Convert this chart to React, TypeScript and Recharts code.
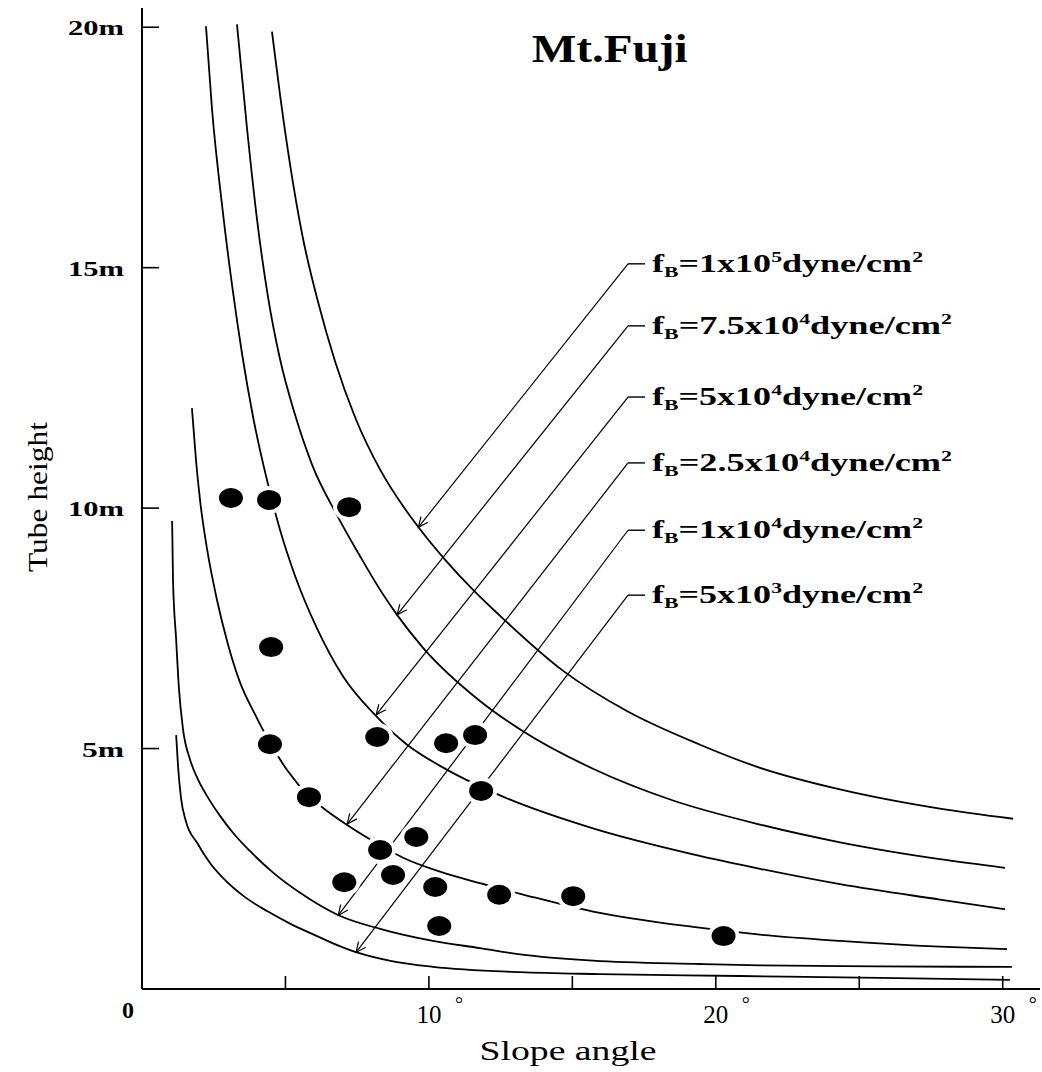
import React from 'react';
import { ComposedChart, Line, Scatter, XAxis, YAxis, ReferenceLine, ReferenceDot } from 'recharts';

// fB curves: slope angle (deg) -> tube height (m)
const angle1e5 = [4.53, 4.81, 5.16, 5.58, 6.13, 6.73, 7.42, 8.3, 9.17, 9.69, 10.56, 11.54, 12.48, 14.67, 16.9, 19.45, 21.54, 24.33, 27.81, 30.36];
const height1e5 = [19.91, 18.6, 17.15, 15.7, 14.3, 13.05, 11.9, 10.8, 9.98, 9.56, 8.93, 8.3, 7.76, 6.62, 5.78, 5.08, 4.6, 4.15, 3.75, 3.54];

const angle75e3 = [3.31, 3.66, 4.01, 4.39, 4.81, 5.33, 5.93, 6.8, 7.6, 8.3, 8.89, 9.79, 11.78, 13.28, 15.72, 18.51, 21.54, 24.33, 27.81, 30.08];
const height75e3 = [20.06, 17.9, 16.0, 14.4, 13.1, 11.95, 10.9, 9.85, 9.0, 8.3, 7.78, 7.1, 5.99, 5.36, 4.58, 3.92, 3.42, 3.05, 2.7, 2.52];

const angle5e4 = [2.23, 2.44, 2.79, 3.17, 3.49, 3.87, 4.39, 4.81, 5.33, 6.1, 7.01, 8.12, 9.24, 10.39, 11.54, 12.58, 15.72, 19.21, 21.54, 24.33, 27.81, 30.08];
const height5e4 = [20.02, 18.3, 16.3, 14.5, 13.2, 11.9, 10.5, 9.55, 8.6, 7.5, 6.5, 5.7, 5.08, 4.64, 4.28, 4.0, 3.34, 2.8, 2.5, 2.18, 1.86, 1.66];

const angle25e3 = [1.74, 1.88, 2.02, 2.27, 2.61, 3.0, 3.42, 3.94, 4.46, 5.05, 5.79, 6.45, 7.15, 8.3, 9.1, 10.39, 11.78, 13.25, 15.72, 19.21, 21.54, 24.33, 27.81, 30.15];
const height25e3 = [12.08, 11.01, 10.18, 9.14, 8.1, 7.16, 6.37, 5.71, 5.12, 4.56, 4.03, 3.7, 3.41, 2.99, 2.73, 2.44, 2.2, 1.97, 1.61, 1.29, 1.13, 1.0, 0.88, 0.83];

const angle1e4 = [1.05, 1.08, 1.19, 1.29, 1.43, 1.67, 1.95, 2.27, 2.72, 3.17, 3.76, 4.57, 5.51, 6.83, 8.3, 10.14, 11.78, 13.18, 15.72, 19.45, 21.54, 25.72, 30.32];
const height1e4 = [9.73, 8.52, 7.27, 6.23, 5.4, 4.78, 4.36, 4.01, 3.6, 3.25, 2.87, 2.42, 2.0, 1.54, 1.25, 1.0, 0.85, 0.72, 0.59, 0.52, 0.49, 0.47, 0.46];

const angle5e3 = [1.19, 1.26, 1.36, 1.53, 1.92, 2.37, 2.82, 3.59, 4.36, 5.16, 6.1, 6.66, 7.49, 8.7, 10.14, 13.18, 15.96, 20.84, 25.72, 30.25];
const height5e3 = [5.28, 4.6, 3.97, 3.49, 3.04, 2.62, 2.31, 1.91, 1.62, 1.36, 1.1, 0.95, 0.76, 0.58, 0.46, 0.35, 0.31, 0.27, 0.23, 0.19];

// observed lava tubes
const tubeAngle = [3.1, 4.43, 7.22, 4.5, 4.46, 5.82, 8.2, 10.6, 11.61, 11.82, 9.56, 8.3, 7.05, 8.75, 10.22, 10.36, 12.45, 15.03, 20.27];
const tubeHeight = [10.21, 10.17, 10.02, 7.11, 5.09, 3.99, 5.24, 5.11, 5.28, 4.12, 3.16, 2.89, 2.22, 2.37, 2.12, 1.31, 1.96, 1.93, 1.1];

// axes
const xTicks = [0, 5, 10, 15, 20, 25, 30];
const xTickLabels: Record<number, string> = { 0: '0', 10: '10', 20: '20', 30: '30' };
const yTicks = [5, 10, 15, 20];
const yTickLabels: Record<number, string> = { 5: '5m', 10: '10m', 15: '15m', 20: '20m' };

// fB labels and where their arrows land
const fbMantissa = ['1', '7.5', '5', '2.5', '1', '5'];
const fbExponent = ['5', '4', '4', '4', '4', '3'];
const tipAngle = [9.63, 8.89, 8.16, 7.15, 6.84, 7.46];
const tipHeight = [9.6, 7.78, 5.7, 3.43, 1.53, 0.76];
const labelAngle = [16.94, 16.94, 16.94, 16.94, 16.94, 16.94];
const labelHeight = [15.08, 13.79, 12.31, 10.94, 9.54, 8.19];

const toPoints = (xs: number[], ys: number[]) => xs.map((x, i) => ({ x, y: ys[i] }));

const curves = [
  toPoints(angle1e5, height1e5),
  toPoints(angle75e3, height75e3),
  toPoints(angle5e4, height5e4),
  toPoints(angle25e3, height25e3),
  toPoints(angle1e4, height1e4),
  toPoints(angle5e3, height5e3),
];
const tubes = toPoints(tubeAngle, tubeHeight);

const FONT = '"Liberation Serif", "DejaVu Serif", serif';

const AngleTick = (props: any) => {
  const { x, y, payload } = props;
  const v = payload.value;
  const lab = xTickLabels[v];
  if (v === 0) {
    return (
      <text x={x - 14} y={y + 29} textAnchor="middle" fontFamily={FONT} fontWeight="bold" fontSize={24} fill="#000">
        0
      </text>
    );
  }
  return (
    <g>
      <line x1={x} y1={y} x2={x} y2={y - 13} stroke="#000" strokeWidth={1.6} />
      {lab && (
        <>
          <text x={x} y={y + 34} textAnchor="middle" fontFamily={FONT} fontSize={25} fill="#000">
            {lab}
          </text>
          <text x={x + 26} y={y + 22} fontFamily={FONT} fontSize={20} fill="#000">
            °
          </text>
        </>
      )}
    </g>
  );
};

const HeightTick = (props: any) => {
  const { x, y, payload } = props;
  const lab = yTickLabels[payload.value];
  return (
    <g>
      <line x1={x} y1={y} x2={x + 17} y2={y} stroke="#000" strokeWidth={1.6} />
      <text
        x={x - 18}
        y={y + 8}
        textAnchor="end"
        fontFamily={FONT}
        fontWeight="bold"
        fontSize={22}
        textLength={lab.length === 2 ? 42 : 56}
        lengthAdjust="spacingAndGlyphs"
        fill="#000"
      >
        {lab}
      </text>
    </g>
  );
};

const Leader = (props: any) => {
  const { x1, y1, x2, y2, mantissa, exponent } = props;
  const ang = Math.atan2(y2 - y1, x2 - x1);
  const len = 11;
  const spread = 0.42;
  const ax = x1 + len * Math.cos(ang + spread);
  const ay = y1 + len * Math.sin(ang + spread);
  const bx = x1 + len * Math.cos(ang - spread);
  const by = y1 + len * Math.sin(ang - spread);
  const wide = mantissa.length > 1;
  return (
    <g>
      <line x1={x1} y1={y1} x2={x2} y2={y2} stroke="#000" strokeWidth={1.2} />
      <polyline points={`${ax},${ay} ${x1},${y1} ${bx},${by}`} fill="none" stroke="#000" strokeWidth={1.2} />
      <line x1={x2} y1={y2} x2={x2 + 17} y2={y2} stroke="#000" strokeWidth={1.4} />
      <text
        x={x2 + 24}
        y={y2 + 8}
        fontFamily={FONT}
        fontWeight="bold"
        fontSize={25}
        fill="#000"
        textLength={wide ? 300 : 271}
        lengthAdjust="spacingAndGlyphs"
      >
        f
        <tspan fontSize={15} dy={5}>B</tspan>
        <tspan dy={-5}>{`=${mantissa}x10`}</tspan>
        <tspan fontSize={15} dy={-10}>{exponent}</tspan>
        <tspan dy={10}>dyne/cm</tspan>
        <tspan fontSize={15} dy={-10}>2</tspan>
      </text>
    </g>
  );
};

const TubeDot = (props: any) => {
  const { cx, cy } = props;
  return (
    <g>
      <ellipse cx={cx} cy={cy} rx={16} ry={14} fill="#fff" />
      <ellipse cx={cx} cy={cy} rx={12} ry={10} fill="#000" />
    </g>
  );
};

const Title = (props: any) => (
  <text
    x={props.cx}
    y={props.cy}
    textAnchor="middle"
    fontFamily={FONT}
    fontWeight="bold"
    fontSize={40}
    textLength={156}
    lengthAdjust="spacingAndGlyphs"
    fill="#000"
  >
    Mt.Fuji
  </text>
);

const App = () => {
  return (
    <div style={{ position: 'absolute', left: 0, top: 0, background: '#fff' }}>
      <ComposedChart width={1042} height={1072} margin={{ top: 8, right: 2, bottom: 0, left: 0 }}>
        <XAxis
          type="number"
          dataKey="x"
          domain={[0, 31.3]}
          allowDataOverflow
          ticks={xTicks}
          interval={0}
          height={83}
          tickSize={0}
          tickMargin={0}
          tickLine={false}
          tick={<AngleTick />}
          axisLine={{ stroke: '#000', strokeWidth: 2 }}
          label={(p: any) => (
            <text
              x={p.viewBox.x + 426}
              y={p.viewBox.y + 71}
              textAnchor="middle"
              fontFamily={FONT}
              fontSize={28}
              textLength={177}
              lengthAdjust="spacingAndGlyphs"
              fill="#000"
            >
              Slope angle
            </text>
          )}
        />
        <YAxis
          type="number"
          dataKey="y"
          domain={[0, 20.4]}
          allowDataOverflow
          ticks={yTicks}
          interval={0}
          width={142}
          tickSize={0}
          tickMargin={0}
          tickLine={false}
          tick={<HeightTick />}
          axisLine={{ stroke: '#000', strokeWidth: 2 }}
          label={() => (
            <text
              x={47}
              y={497}
              transform="rotate(-90 47 497)"
              textAnchor="middle"
              fontFamily={FONT}
              fontSize={28}
              textLength={150}
              lengthAdjust="spacingAndGlyphs"
              fill="#000"
            >
              Tube height
            </text>
          )}
        />
        {curves.map((c, i) => (
          <Line
            key={`curve-${i}`}
            data={c}
            dataKey="y"
            type="monotone"
            stroke="#000"
            strokeWidth={1.8}
            dot={false}
            activeDot={false}
            isAnimationActive={false}
          />
        ))}
        {fbMantissa.map((m, i) => (
          <ReferenceLine
            key={`fb-${i}`}
            segment={[
              { x: tipAngle[i], y: tipHeight[i] },
              { x: labelAngle[i], y: labelHeight[i] },
            ]}
            ifOverflow="visible"
            shape={(p: any) => <Leader {...p} mantissa={m} exponent={fbExponent[i]} />}
          />
        ))}
        <Scatter data={tubes} dataKey="y" shape={<TubeDot />} isAnimationActive={false} />
        <ReferenceDot x={16.3} y={19.27} ifOverflow="visible" shape={<Title />} />
      </ComposedChart>
    </div>
  );
};

export default App;
